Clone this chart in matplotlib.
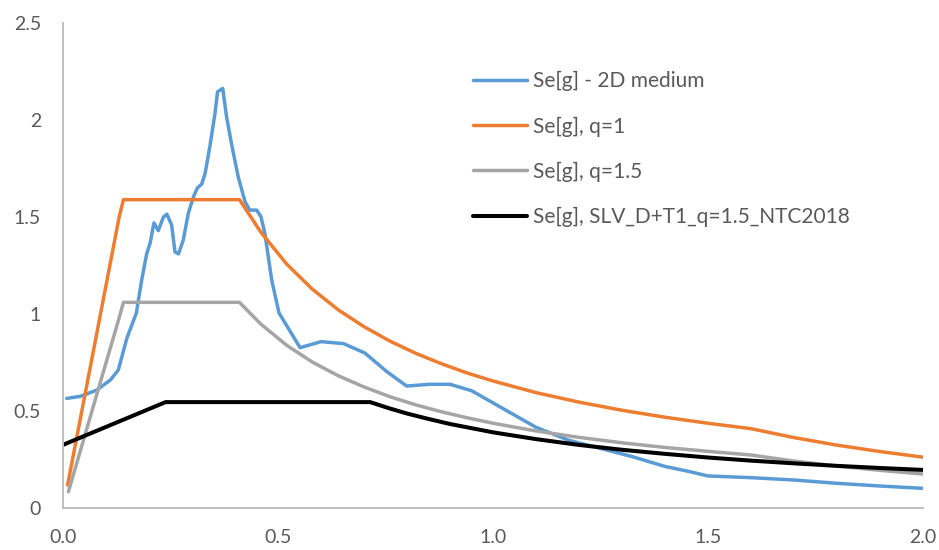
import matplotlib
matplotlib.use("Agg")
import matplotlib.pyplot as plt

# Period T [s] and spectral acceleration Se [g] for each series
t_medium = [0.008, 0.04, 0.078, 0.11, 0.128, 0.148, 0.17, 0.182, 0.194, 0.202,
            0.211, 0.221, 0.233, 0.241, 0.252, 0.26, 0.268, 0.279, 0.291, 0.303,
            0.312, 0.322, 0.33, 0.341, 0.353, 0.359, 0.371, 0.38, 0.392, 0.407,
            0.423, 0.434, 0.45, 0.46, 0.469, 0.485, 0.502, 0.551, 0.6, 0.652,
            0.702, 0.753, 0.799, 0.853, 0.9, 0.95, 1.1, 1.175, 1.25, 1.325,
            1.4, 1.45, 1.5, 1.6, 1.7, 1.8, 1.9, 2.0]
se_medium = [0.564, 0.575, 0.607, 0.66, 0.711, 0.875, 1.005, 1.17, 1.31, 1.365,
             1.47, 1.43, 1.5, 1.515, 1.46, 1.32, 1.31, 1.38, 1.52, 1.605,
             1.65, 1.67, 1.725, 1.863, 2.035, 2.147, 2.164, 2.017, 1.872, 1.708,
             1.579, 1.536, 1.536, 1.502, 1.416, 1.175, 1.005, 0.826, 0.857, 0.847,
             0.798, 0.702, 0.628, 0.637, 0.637, 0.604, 0.415, 0.349, 0.306, 0.263,
             0.213, 0.19, 0.164, 0.155, 0.143, 0.126, 0.112, 0.1]

t_q1 = [0.01, 0.13, 0.14, 0.41, 0.46, 0.52, 0.58, 0.64, 0.70, 0.76, 0.82, 0.88,
        0.94, 1.00, 1.10, 1.20, 1.30, 1.40, 1.50, 1.60, 1.70, 1.80, 1.90, 2.00]
se_q1 = [0.117, 1.50, 1.59, 1.59, 1.421, 1.257, 1.127, 1.021, 0.934, 0.860, 0.797, 0.743,
         0.695, 0.654, 0.594, 0.545, 0.503, 0.467, 0.436, 0.408, 0.362, 0.323, 0.290, 0.261]

t_q15 = [0.012, 0.13, 0.14, 0.41, 0.46, 0.52, 0.58, 0.64, 0.70, 0.76, 0.82, 0.88,
         0.94, 1.00, 1.10, 1.20, 1.30, 1.40, 1.50, 1.60, 1.70, 1.80, 1.90, 2.00]
se_q15 = [0.083, 0.98, 1.06, 1.06, 0.947, 0.838, 0.751, 0.681, 0.623, 0.573, 0.531, 0.495,
          0.464, 0.436, 0.396, 0.363, 0.335, 0.311, 0.291, 0.272, 0.241, 0.215, 0.193, 0.174]

t_ntc = [0.0, 0.238, 0.714, 0.76, 0.80, 0.85, 0.90, 1.00, 1.10, 1.20, 1.30, 1.40,
         1.50, 1.60, 1.70, 1.80, 1.90, 2.00]
se_ntc = [0.325, 0.545, 0.545, 0.512, 0.486, 0.458, 0.432, 0.389, 0.354, 0.324, 0.299, 0.278,
          0.259, 0.243, 0.229, 0.216, 0.205, 0.195]

series_labels = ["Se[g] - 2D medium", "Se[g], q=1", "Se[g], q=1.5",
                 "Se[g], SLV_D+T1_q=1.5_NTC2018"]

x_ticks = [0.0, 0.5, 1.0, 1.5, 2.0]
x_tick_labels = ["0.0", "0.5", "1.0", "1.5", "2.0"]
y_ticks = [0, 0.5, 1, 1.5, 2, 2.5]
y_tick_labels = ["0", "0.5", "1", "1.5", "2", "2.5"]

plt.rcParams["font.family"] = ["Lato", "DejaVu Sans"]

fig = plt.figure(figsize=(9.39, 5.5), dpi=100)
ax = fig.add_axes([0.0674, 0.0769, 0.9153, 0.8807])

ax.plot(t_medium, se_medium, color="#5B9BD5", lw=2.5, label=series_labels[0],
        solid_joinstyle="round", solid_capstyle="round")
ax.plot(t_q1, se_q1, color="#ED7D31", lw=2.5, label=series_labels[1],
        solid_joinstyle="round", solid_capstyle="round")
ax.plot(t_q15, se_q15, color="#A5A5A5", lw=2.5, label=series_labels[2],
        solid_joinstyle="round", solid_capstyle="round")
ax.plot(t_ntc, se_ntc, color="#000000", lw=2.9, label=series_labels[3],
        solid_joinstyle="round", solid_capstyle="round")

ax.set_xlim(0, 2.0)
ax.set_ylim(0, 2.5)
ax.set_xticks(x_ticks)
ax.set_xticklabels(x_tick_labels)
ax.set_yticks(y_ticks)
ax.set_yticklabels(y_tick_labels)

for side in ("top", "right"):
    ax.spines[side].set_visible(False)
for side in ("left", "bottom"):
    ax.spines[side].set_color("#BFBFBF")
    ax.spines[side].set_linewidth(1.4)

ax.tick_params(axis="both", length=0, labelsize=14, labelcolor="#595959")
ax.tick_params(axis="y", pad=16)
ax.tick_params(axis="x", pad=15)

leg = ax.legend(loc="upper left", bbox_to_anchor=(0.477, 0.901), frameon=False,
                fontsize=15, handlelength=2.6, handletextpad=0.25,
                labelspacing=1.2, borderpad=0, borderaxespad=0)
for txt in leg.get_texts():
    txt.set_color("#595959")

fig.savefig("out.png", dpi=100)
